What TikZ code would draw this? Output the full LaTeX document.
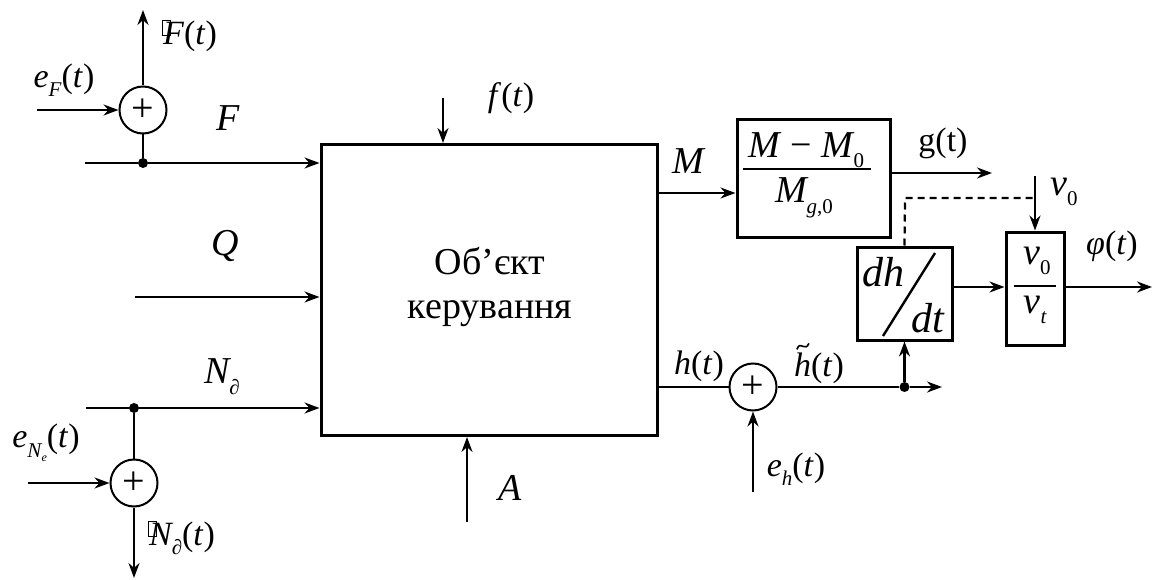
\documentclass[tikz,border=0pt]{standalone}
\usepackage{fontspec}
\setmainfont{Liberation Serif}
\usetikzlibrary{arrows.meta}
\newcommand\tpar{\textup{(}\textit{t}\textup{)}}
\newcommand\lsub[1]{\raisebox{-0.28em}{\fontsize{21}{21}\selectfont #1}}
\newcommand\gbox{\rlap{\kern-0.04em\raisebox{0.28em}{\setlength{\fboxsep}{0pt}\setlength{\fboxrule}{0.8pt}\fbox{\phantom{\rule{0.22em}{0.42em}}}}}}
\begin{document}
\begin{tikzpicture}[x=1pt,y=-1pt,
  ln/.style={line width=2.2pt},
  arr/.style={line width=2.2pt,-{Stealth[length=15pt,width=11pt]}},
  blk/.style={draw,line width=3pt,inner sep=0pt},
  sum/.style={circle,draw,line width=2pt,minimum size=47pt,inner sep=0pt,font=\fontsize{40}{40}\selectfont},
  dot/.style={circle,fill,inner sep=0pt,minimum size=10pt},
  lbl/.style={inner sep=0pt,font=\fontsize{34}{36}\selectfont\itshape},
  big/.style={inner sep=0pt,font=\fontsize{38}{40}\selectfont\itshape},
  txt/.style={inner sep=0pt,font=\fontsize{38}{44}\selectfont,align=center}]
\useasboundingbox (0,0) rectangle (1169,580);
% main block
\node[blk,minimum width=336pt,minimum height=291pt] (obj) at (489,290) {};
\node[txt] (objt) at (490,287) {Об’єкт\\керування};
% F input with sum
\node[sum] (sF) at (143,110) {+};
\node[dot] (dF) at (143,163) {};
\coordinate (F0) at (85,163);
\coordinate (eF0) at (37,110);
\coordinate (Ft) at (143,10);
\draw[ln] (F0) -- (dF);
\draw[arr] (dF) -- (obj.west |- dF);
\draw[ln] (sF) -- (dF);
\draw[arr] (eF0) -- (sF.west);
\draw[arr] (sF.north) -- (Ft);
\node[lbl] (lFt) at (190,36) {\gbox\textit{F}\tpar};
\node[lbl] (leF) at (64,80) {\textit{e}\lsub{\textit{F}}\tpar};
\node[big] (lF) at (228,118) {F};
% Q
\coordinate (Q0) at (135,297);
\draw[arr] (Q0) -- (obj.west |- Q0);
\node[big] (lQ) at (225,246) {Q};
% N input with sum
\node[dot] (dN) at (134,408) {};
\node[sum] (sN) at (134,483) {+};
\coordinate (N0) at (86,408);
\coordinate (eN0) at (28,483);
\coordinate (Nt) at (134,578);
\draw[ln] (N0) -- (dN);
\draw[arr] (dN) -- (obj.west |- dN);
\draw[ln] (dN) -- (sN);
\draw[arr] (eN0) -- (sN.west);
\draw[arr] (sN.south) -- (Nt);
\node[big] (lN) at (222,377) {N\lsub{∂}};
\node[lbl] (leN) at (46,443) {\textit{e}\lsub{\textit{N}\raisebox{-0.2em}{\fontsize{12}{12}\selectfont\textit{e}}}\tpar};
\node[lbl] (lNt) at (182,538) {\gbox\textit{N}\lsub{\textit{∂}}\tpar};
% f and A
\coordinate (f0) at (443,98);
\draw[arr] (f0) -- (f0 |- obj.north);
\node[lbl] (lf) at (511,98) {\textit{f}\tpar};
\coordinate (A0) at (467,522);
\draw[arr] (A0) -- (A0 |- obj.south);
\node[big] (lA) at (510,488) {A};
% M block
\node[blk,minimum width=153pt,minimum height=117pt] (Mb) at (813.5,178.5) {};
\node[lbl,font=\fontsize{38}{40}\selectfont\itshape] (Mnum) at (806,150) {M \textup{−} M\lsub{\textup{0}}};
\node[lbl,font=\fontsize{38}{40}\selectfont\itshape] (Mden) at (804,198) {M\lsub{g\textup{,0}}};
\draw[ln] (743,169) -- (871,169);
\coordinate (Mi) at (obj.east |- 0,193);
\draw[arr] (Mi) -- (Mb.west |- Mi);
\node[big] (lM) at (688,161) {M};
\coordinate (g0) at (Mb.east |- 0,173);
\coordinate (g1) at (992,173);
\draw[arr] (g0) -- (g1);
\node[lbl,font=\fontsize{34}{36}\selectfont] (lg) at (943,143) {g(t)};
% dh/dt block
\node[blk,minimum width=95pt,minimum height=93pt] (dh) at (904.5,293.5) {};
\node[lbl,font=\fontsize{42}{42}\selectfont\itshape] (dht) at (883,272) {dh};
\node[lbl,font=\fontsize{42}{42}\selectfont\itshape] (dtt) at (928,318) {dt};
\draw[line width=2.4pt] (883,336) -- (935,253);
% v block
\node[blk,minimum width=58pt,minimum height=113pt] (vb) at (1035,288.5) {};
\node[lbl,font=\fontsize{38}{38}\selectfont\itshape] (vn) at (1037,261) {v\lsub{\textup{0}}};
\node[lbl,font=\fontsize{38}{38}\selectfont\itshape] (vd) at (1035,310) {v\lsub{t}};
\draw[ln] (1014,286) -- (1056,286);
\coordinate (v00) at (1035,176);
\draw[arr] (v00) -- (vb.north);
\node[lbl,font=\fontsize{38}{38}\selectfont\itshape] (lv0) at (1064,192) {v\lsub{\textup{0}}};
\draw[ln,dashed,dash pattern=on 7pt off 5pt] (dh.north) -- (905,198) -- (1035,198);
\coordinate (dv) at (dh.east |- 0,287);
\draw[arr] (dv) -- (vb.west |- dv);
\coordinate (phi0) at (vb.east |- 0,287);
\coordinate (phi1) at (1152,287);
\draw[arr] (phi0) -- (phi1);
\node[lbl] (lphi) at (1112,246) {φ\tpar};
% h branch
\node[sum] (sh) at (753,387) {+};
\node[dot] (dH) at (904.5,387) {};
\coordinate (hE) at (942,387);
\coordinate (hi) at (obj.east |- sh);
\draw[ln] (hi) -- (sh.west);
\draw[ln] (sh.east) -- (dH);
\draw[arr] (dH) -- (hE);
\draw[arr] (dH) -- (dH |- dh.south);
\coordinate (eh0) at (753,492);
\draw[arr] (eh0) -- (sh.south);
\node[lbl] (lh) at (699,366) {\textit{h}\tpar};
\node[lbl] (lht) at (819,368) {\textit{h}\tpar};
\coordinate (tl) at ([xshift=3pt,yshift=3pt]lht.north west);
\draw[line width=1.6pt] (tl) .. controls +(2,-5) and +(-3,-1) .. +(6,-3) .. controls +(3,1) and +(-2,4) .. +(12,-6);
\node[lbl] (leh) at (796,469) {\textit{e}\lsub{\textit{h}}\tpar};
\end{tikzpicture}
\end{document}
